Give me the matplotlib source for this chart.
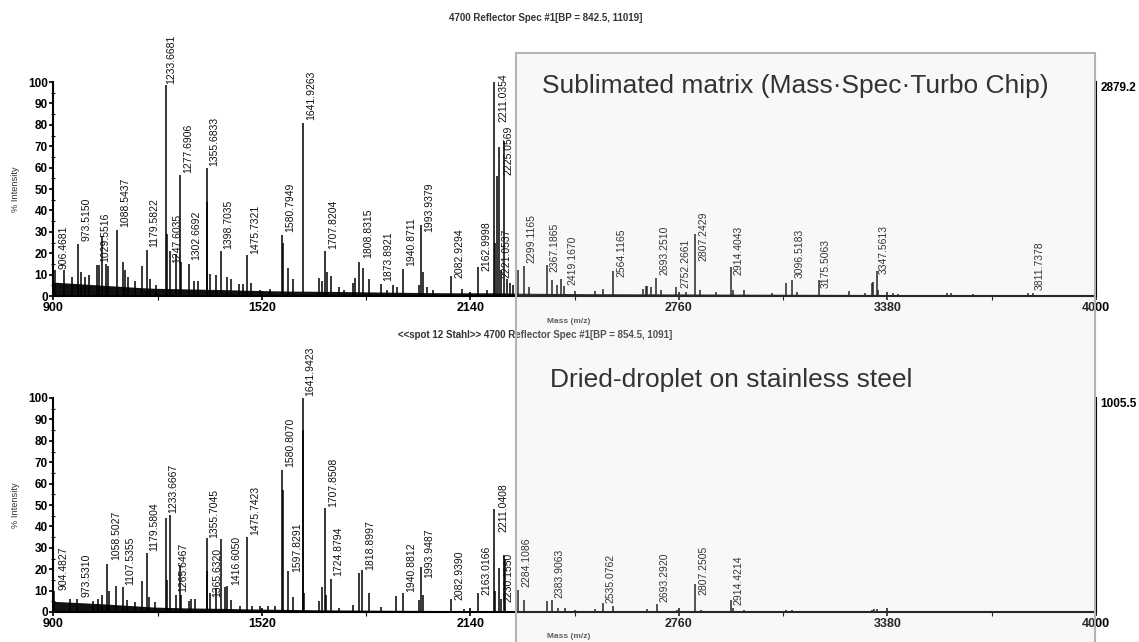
import matplotlib
matplotlib.use("Agg")
import matplotlib.pyplot as plt
from matplotlib.patches import Rectangle

plt.rcParams['font.family'] = ['Liberation Sans', 'DejaVu Sans']

# ---- upper spectrum (sublimated matrix) ----
top_peak_mz = [906, 932, 955, 973.5, 981, 994, 1007, 1029.5, 1035, 1045, 1056, 1064,
               1088.5, 1106, 1113, 1121, 1143, 1165, 1179.6, 1188, 1205, 1233.7, 1237,
               1247.6, 1264, 1277.7, 1280, 1302.7, 1318, 1329, 1355.7, 1358, 1366, 1384,
               1398.7, 1415, 1427, 1453, 1463, 1475.7, 1487, 1516, 1544, 1580.8, 1584,
               1597, 1614, 1641.9, 1689, 1700, 1707.8, 1713, 1726, 1748, 1764, 1790, 1797,
               1808.8, 1820, 1839, 1873.9, 1891, 1911, 1923, 1940.9, 1988, 1993.9, 1998,
               2012, 2030, 2082.9, 2114, 2163, 2188, 2211, 2214, 2220, 2225, 2231, 2240,
               2248, 2258, 2268, 2282, 2299, 2313, 2367, 2384, 2399, 2408, 2419, 2451,
               2511, 2535, 2564, 2654, 2661, 2664, 2676, 2693, 2706, 2752, 2781, 2807.2,
               2824, 2870, 2914.4, 2922, 2953, 3036, 3078, 3096.5, 3110, 3176, 3265, 3313,
               3333, 3338, 3347.6, 3353, 3397, 3412, 3556, 3568, 3635, 3799, 3812]
top_peak_int = [12, 12, 9, 24.3, 11, 9, 10, 14.5, 14.5, 28, 15, 14,
                31, 16, 12, 9, 7, 14, 21.5, 8, 5, 98.5, 29,
                21, 19.5, 56.5, 16, 15, 7, 7, 60, 44, 10.5, 10,
                21, 9, 8, 5.5, 5.5, 19, 6, 3, 3.5, 28.3, 25,
                13, 8, 81, 8.5, 7, 21, 11, 9.5, 4, 3, 6, 8.5,
                16, 13, 8, 5.5, 3, 5, 4, 12.5, 5, 33, 11,
                4, 3, 9.5, 3.5, 13.5, 3, 100, 25, 56, 69.5, 12, 72.5,
                8, 6, 5, 12, 14, 4, 14.5, 7.5, 5, 8, 4.5, 2.5,
                2.5, 3.5, 11.5, 3.5, 4.5, 4.5, 4, 8.5, 3, 4, 2, 28.8,
                3, 2, 13.5, 3, 3, 1.5, 6, 7.5, 2, 7.5, 2.5, 1.5,
                6, 6.5, 11.5, 3, 1.5, 1, 1.3, 1.3, 0.8, 1.5, 1.5]
top_base_mz = [900, 950, 1000, 1050, 1100, 1150, 1200, 1300, 1400, 1500, 1600, 1700,
               1800, 1900, 2000, 2100, 2200, 2300, 2500, 2700, 2900, 3100, 3400, 3700, 4000]
top_base_int = [6.5, 6, 5.5, 5, 4.5, 4, 3.6, 3.3, 3, 2.6, 2.3, 2.2,
                2, 1.8, 1.6, 1.5, 1.5, 1.3, 1.1, 1.0, 0.9, 0.8, 0.7, 0.5, 0.4]
top_labels = ["906.4681", "973.5150", "1029.5516", "1088.5437", "1179.5822", "1233.6681",
              "1247.6035", "1277.6906", "1302.6692", "1355.6833", "1398.7035", "1475.7321",
              "1580.7949", "1641.9263", "1707.8204", "1808.8315", "1873.8921", "1940.8711",
              "1993.9379", "2082.9294", "2162.9998", "2211.0354", "2225.0569", "2221.0537",
              "2299.1165", "2367.1865", "2419.1670", "2564.1165", "2693.2510", "2752.2661",
              "2807.2429", "2914.4043", "3096.5183", "3175.5063", "3347.5613", "3811.7378"]
top_label_x = [930, 999, 1054, 1113, 1200, 1252, 1269, 1301, 1326, 1378, 1420, 1500,
               1604, 1668, 1731, 1835, 1896, 1965, 2018, 2106, 2188, 2238, 2253, 2246,
               2322, 2390, 2444, 2588, 2717, 2778, 2833, 2937, 3120, 3197, 3370, 3833]
top_label_y = [12, 25, 15, 31.6, 22, 98.4, 14.5, 56.5, 16, 60, 21, 19,
               29, 81.5, 21, 17, 6, 13, 29.3, 7.5, 11, 80.7, 55.8, 7.5,
               14.5, 10.6, 4.4, 8.3, 9, 2.8, 15.7, 9, 7.8, 3.1, 9.3, 2]

# ---- lower spectrum (dried droplet on steel) ----
bot_peak_mz = [902, 950, 971, 1019, 1034, 1044, 1058.5, 1066, 1086, 1107.5, 1120, 1143,
               1165, 1179.6, 1186, 1203, 1233.7, 1237, 1247, 1265.6, 1277, 1280, 1302,
               1310, 1322, 1355.7, 1357, 1365.6, 1383, 1398, 1411, 1416.6, 1427, 1455,
               1475.7, 1491, 1515, 1539, 1559, 1580.8, 1584, 1597.8, 1612, 1641.9, 1643,
               1646, 1691, 1700, 1707.9, 1711, 1724.9, 1749, 1792, 1809, 1818.9, 1839,
               1873, 1918, 1940.9, 1988, 1993.9, 1998, 2083, 2121, 2163, 2211, 2214,
               2225, 2230, 2240, 2243, 2283, 2298, 2367, 2384, 2401, 2421, 2451, 2511,
               2535, 2565, 2664, 2694, 2753, 2809, 2826, 2914, 2922, 2953, 3078, 3096,
               3176, 3333, 3340, 3348]
bot_peak_int = [10, 6, 6, 5, 6, 8, 22.5, 10, 12, 11.5, 5.5, 4.5,
                14.5, 27.5, 7, 4.5, 44, 15, 45.5, 8, 22, 8, 5,
                6, 6, 34.5, 19, 9, 11, 34, 11.5, 12, 5.5, 3,
                35, 3, 3, 3, 3, 66.5, 57, 19, 7, 100, 85,
                9, 5, 11.5, 48.5, 8, 15.5, 2, 3.5, 18, 19.5, 9,
                2.5, 7.5, 9, 5.5, 21, 8, 6, 1.5, 9, 48, 10,
                20.5, 6, 26.5, 25, 10.5, 5.5, 5, 5.5, 2, 2, 1, 1.5,
                4.3, 3, 1.5, 3.6, 1, 13.3, 1, 5.6, 2, 1, 0.8, 0.8,
                0.6, 1, 1.2, 1.2]
bot_base_mz = [900, 950, 1000, 1050, 1100, 1150, 1200, 1300, 1400, 1500, 1600, 1700,
               1900, 2200, 2600, 3000, 4000]
bot_base_int = [5, 4.6, 4.2, 3.8, 3.3, 2.8, 2.3, 1.9, 1.7, 1.4, 1.2, 1,
                0.8, 0.6, 0.5, 0.4, 0.3]
bot_labels = ["904.4827", "973.5310", "1058.5027", "1107.5355", "1179.5804", "1233.6667",
              "1265.6467", "1355.7045", "1365.6320", "1416.6050", "1475.7423", "1580.8070",
              "1597.8291", "1641.9423", "1707.8508", "1724.8794", "1818.8997", "1940.8812",
              "1993.9487", "2082.9390", "2163.0166", "2211.0408", "2230.1550", "2284.1086",
              "2383.9063", "2535.0762", "2693.2920", "2807.2505", "2914.4214"]
bot_label_x = [930, 999, 1086, 1128, 1200, 1255, 1287, 1378, 1386, 1445, 1500, 1604,
               1624, 1663, 1731, 1747, 1842, 1965, 2018, 2106, 2188, 2238, 2253, 2307,
               2404, 2555, 2717, 2833, 2937]
bot_label_y = [9.5, 6.4, 23.5, 11.8, 27.7, 45.3, 8.7, 34, 6.4, 11.8, 35.2, 67,
               18, 100, 48.4, 16, 18.8, 8.7, 15, 4.8, 7.2, 36.8, 4, 11,
               5.6, 3.3, 4, 7.2, 2.5]

W, H = 1139, 642
fig = plt.figure(figsize=(W / 100, H / 100), dpi=100)


def draw_spectrum(ax, mz, inten, base_mz, base_int, labels, lx, ly, bp_text):
    ax.fill_between(base_mz, 0, base_int, color='#111111', lw=0)
    ax.vlines(mz, 0, inten, color='black', lw=1.1)
    for t, x, y in zip(labels, lx, ly):
        ax.text(x, y + 0.8, t, rotation=90, ha='center', va='bottom',
                fontsize=7.5, color='#111111', clip_on=False)
    ax.set_xlim(900, 4000)
    ax.set_ylim(0, 100)
    ax.set_xticks([900, 1520, 2140, 2760, 3380, 4000])
    ax.set_xticks([1210, 1830, 2450, 3070, 3690], minor=True)
    ax.set_yticks(range(0, 101, 10))
    ax.set_yticks(range(5, 100, 10), minor=True)
    ax.tick_params(axis='x', which='major', direction='inout', length=6, width=1.2,
                   labelsize=9, pad=1)
    ax.tick_params(axis='x', which='minor', direction='out', length=3, width=0.8)
    ax.tick_params(axis='y', which='major', direction='out', length=3, width=1.2,
                   labelsize=8.5, pad=1)
    ax.tick_params(axis='y', which='minor', direction='inout', length=3, width=0.8)
    for lab in ax.get_xticklabels() + ax.get_yticklabels():
        lab.set_fontweight('bold')
    ax.spines['top'].set_visible(False)
    for s in ('left', 'bottom', 'right'):
        ax.spines[s].set_linewidth(1.5)
        ax.spines[s].set_color('black')
    ax.text(1.004, 1.0, bp_text, transform=ax.transAxes, ha='left', va='top',
            fontsize=8.5, fontweight='bold')


ax_top = fig.add_axes([53.3 / W, 1 - 296 / H, 1042.7 / W, 214 / H])
ax_bot = fig.add_axes([53.3 / W, 1 - 612 / H, 1042.7 / W, 214 / H])
ax_top.patch.set_alpha(0)
ax_bot.patch.set_alpha(0)

draw_spectrum(ax_top, top_peak_mz, top_peak_int, top_base_mz, top_base_int,
              top_labels, top_label_x, top_label_y, "2879.2")
draw_spectrum(ax_bot, bot_peak_mz, bot_peak_int, bot_base_mz, bot_base_int,
              bot_labels, bot_label_x, bot_label_y, "1005.5")

# titles and axis labels
fig.text(546 / W, 1 - 18 / H, "4700 Reflector Spec #1[BP = 842.5, 11019]",
         ha='center', va='center', fontsize=7, fontweight='bold', color='#333333')
fig.text(535 / W, 1 - 335 / H, "<<spot 12 Stahl>> 4700 Reflector Spec #1[BP = 854.5, 1091]",
         ha='center', va='center', fontsize=7, fontweight='bold', color='#333333')
for yc in (189, 505):
    fig.text(15 / W, 1 - yc / H, "% Intensity", rotation=90, ha='center', va='center',
             fontsize=6.7, color='#333333')
for yc in (322, 636):
    fig.text(569 / W, 1 - yc / H, "Mass (m/z)", ha='center', va='center',
             fontsize=6, fontweight='bold', color='#444444')

# translucent annotation box
box = Rectangle((516 / W, -0.02), (1095 - 516) / W, 0.02 + 1 - 53 / H,
                transform=fig.transFigure, facecolor='#d9d9d9', alpha=0.18,
                edgecolor='none', zorder=5)
fig.patches.append(box)
frame = Rectangle((516 / W, -0.02), (1095 - 516) / W, 0.02 + 1 - 53 / H,
                  transform=fig.transFigure, facecolor='none',
                  edgecolor='#b4b4b4', lw=1.5, zorder=6)
fig.patches.append(frame)
fig.text(542 / W, 1 - 93 / H, "Sublimated matrix (Mass\u00b7Spec\u00b7Turbo Chip)",
         ha='left', va='baseline', fontsize=19, color='#333333', zorder=7)
fig.text(550 / W, 1 - 387 / H, "Dried-droplet on stainless steel",
         ha='left', va='baseline', fontsize=19, color='#333333', zorder=7)

fig.savefig("out.png", dpi=100)
